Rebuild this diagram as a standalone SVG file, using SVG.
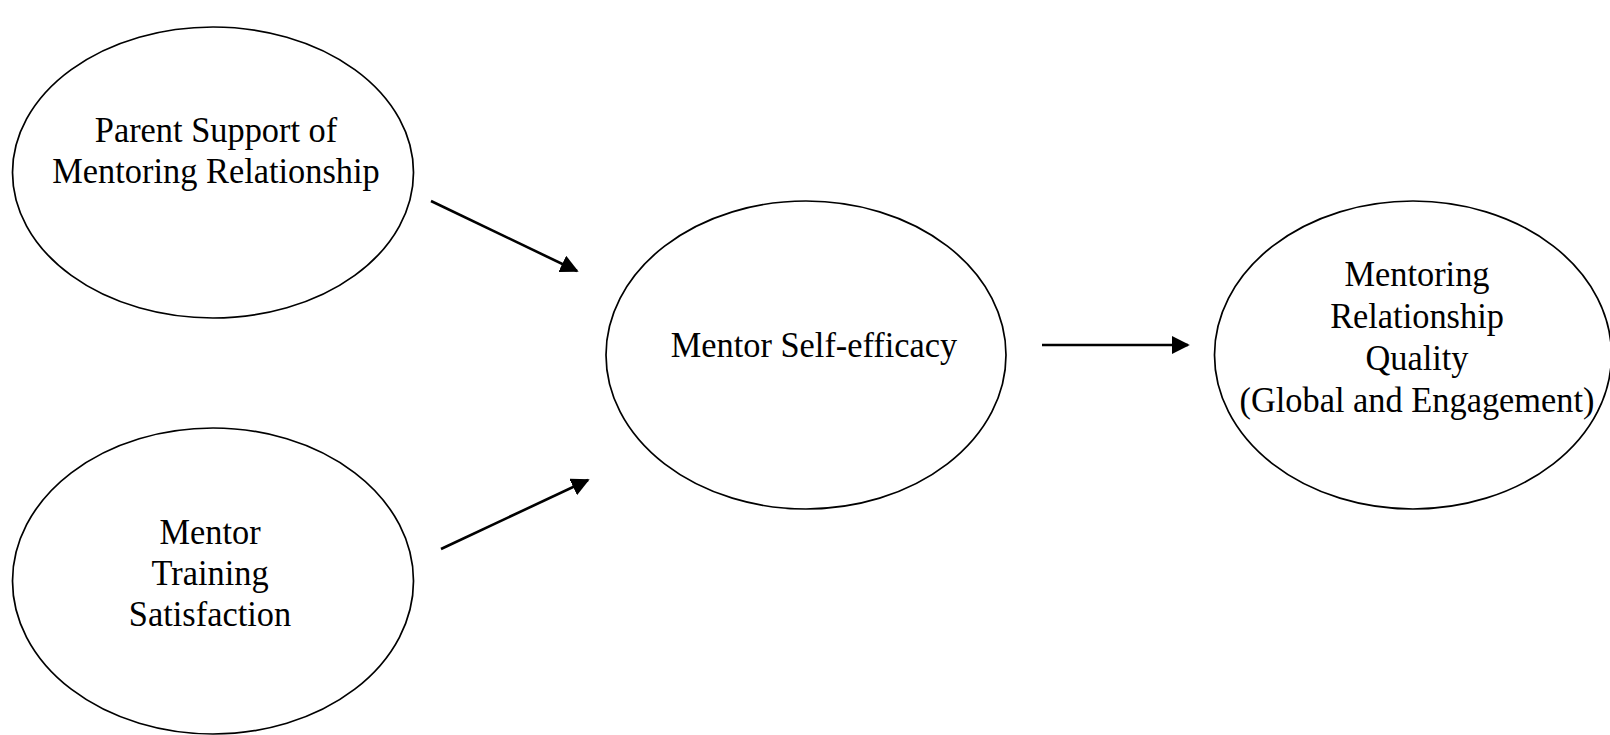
<svg xmlns="http://www.w3.org/2000/svg" width="1610" height="735" viewBox="0 0 1610 735">
  <style>
    .node ellipse { fill: #ffffff; stroke: #000000; stroke-width: 1.7; }
    .node text { font-family: "Liberation Serif", "Times New Roman", serif; font-size: 36px; fill: #000000; text-anchor: middle; }
    .edge { stroke: #000000; stroke-width: 2.6; fill: none; marker-end: url(#arrow); }
  </style>
  <defs>
    <marker id="arrow" viewBox="0 0 10 10" refX="9" refY="5" markerWidth="7" markerHeight="7" markerUnits="strokeWidth" orient="auto">
      <path d="M0,0 L10,5 L0,10 Z" fill="#000000"/>
    </marker>
  </defs>
  <rect width="1610" height="735" fill="#ffffff"/>

  <!-- labels use a slightly condensed serif: translate to the line centre, then squeeze horizontally -->
  <g id="parent-support" class="node">
    <ellipse cx="213" cy="172.5" rx="200.5" ry="145.5"/>
    <text transform="translate(216,142) scale(0.955,1)">Parent Support of</text>
    <text transform="translate(216,183) scale(0.955,1)">Mentoring Relationship</text>
  </g>

  <g id="training-satisfaction" class="node">
    <ellipse cx="213" cy="581" rx="200.5" ry="153"/>
    <text transform="translate(210,544) scale(0.955,1)">Mentor</text>
    <text transform="translate(210,585) scale(0.955,1)">Training</text>
    <text transform="translate(210,626) scale(0.955,1)">Satisfaction</text>
  </g>

  <g id="self-efficacy" class="node">
    <ellipse cx="806" cy="355" rx="200" ry="154"/>
    <text transform="translate(814,357) scale(0.955,1)">Mentor Self-efficacy</text>
  </g>

  <g id="relationship-quality" class="node">
    <ellipse cx="1413" cy="355" rx="198.5" ry="154"/>
    <text transform="translate(1417,286) scale(0.955,1)">Mentoring</text>
    <text transform="translate(1417,328) scale(0.955,1)">Relationship</text>
    <text transform="translate(1417,370) scale(0.955,1)">Quality</text>
    <text transform="translate(1417,412) scale(0.955,1)">(Global and Engagement)</text>
  </g>

  <g id="connectors">
    <line class="edge" x1="431" y1="201" x2="577" y2="271"/>
    <line class="edge" x1="441" y1="549" x2="588" y2="480"/>
    <line class="edge" x1="1042" y1="345" x2="1188" y2="345"/>
  </g>
</svg>
